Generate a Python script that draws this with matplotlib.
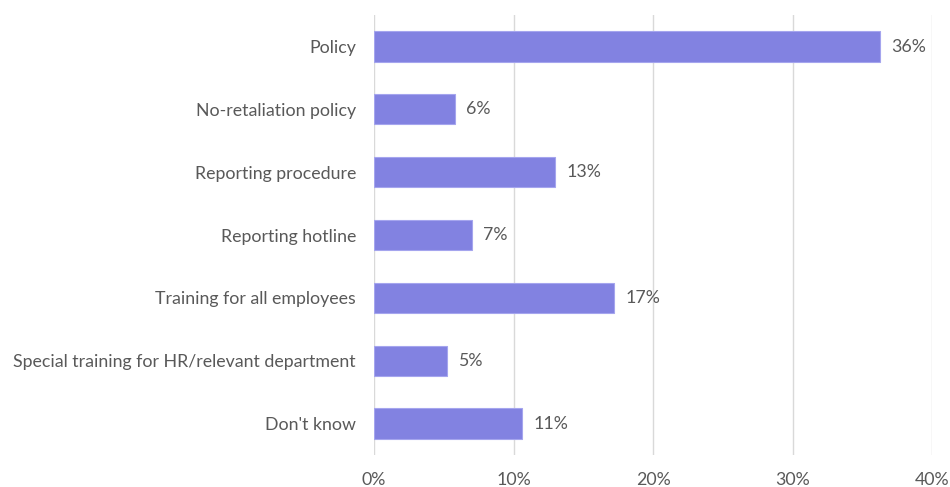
import matplotlib.pyplot as plt
from matplotlib.ticker import PercentFormatter

categories = ['Policy', 'No-retaliation policy', 'Reporting procedure', 'Reporting hotline',
              'Training for all employees', 'Special training for HR/relevant department', "Don't know"]
values = [36.3, 5.8, 13.0, 7.0, 17.2, 5.2, 10.6]
labels = ['36%', '6%', '13%', '7%', '17%', '5%', '11%']

plt.rcParams['font.family'] = ['Lato', 'DejaVu Sans']
text_color = '#595959'

fig = plt.figure(figsize=(9.5, 4.87), dpi=100)
ax = fig.add_axes([0.3937, 0.0657, 0.5874, 0.9033])

y = range(len(categories))
ax.barh(y, values, height=0.48, color='#8282e1', edgecolor='#a5a5ee', linewidth=0.8, zorder=3)
for yi, v, lab in zip(y, values, labels):
    ax.text(v + 0.8, yi, lab, va='center', ha='left', fontsize=12.8, color=text_color)

ax.set_yticks(list(y))
ax.set_yticklabels(categories)
ax.set_ylim(len(categories) - 0.5, -0.5)
ax.set_xlim(0, 40)
ax.set_xticks([0, 10, 20, 30, 40])
ax.xaxis.set_major_formatter(PercentFormatter(decimals=0))
ax.tick_params(axis='y', length=0, pad=13, labelsize=12.8, labelcolor=text_color)
ax.tick_params(axis='x', length=0, pad=12, labelsize=12.8, labelcolor=text_color)
ax.grid(axis='x', color='#d9d9d9', linewidth=1, zorder=0)
for s in ax.spines.values():
    s.set_visible(False)

fig.savefig('out.png', dpi=100)
